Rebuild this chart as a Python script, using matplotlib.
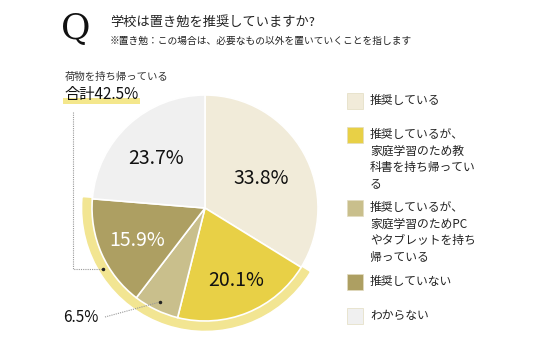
import matplotlib.pyplot as plt
from matplotlib.patches import Wedge, Rectangle

plt.rcParams['font.family'] = ['Noto Sans CJK JP', 'DejaVu Sans']

# data
labels = ["推奨している",
          "推奨しているが、\n家庭学習のため教\n科書を持ち帰ってい\nる",
          "推奨しているが、\n家庭学習のためPC\nやタブレットを持ち\n帰っている",
          "推奨していない",
          "わからない"]
values = [33.8, 20.1, 6.5, 15.9, 23.7]
colors = ["#f1ebd9", "#e8d046", "#c9bf8c", "#ad9f62", "#f0f0f0"]
carry_total = 42.5  # 20.1 + 6.5 + 15.9

W, H = 536, 357
fig = plt.figure(figsize=(W / 100, H / 100), dpi=100)
ax = fig.add_axes([0, 0, 1, 1])

def Y(y):
    return H - y

cx, cy, r = 205, Y(208), 113

# ring behind the "carry home" slices
start = 90 - values[0] * 3.6
end = start - sum(values[1:4]) * 3.6
ax.add_patch(Wedge((cx, cy), r + 9, end, start, width=14, color="#f2e592", zorder=1))

wedges, _ = ax.pie(values, colors=colors, startangle=90, counterclock=False,
                   center=(cx, cy), radius=r, frame=True,
                   wedgeprops=dict(edgecolor="white", linewidth=1.2))
for w in wedges:
    w.set_zorder(2)
ax.set_xlim(0, W)
ax.set_ylim(0, H)
ax.set_aspect('equal')
ax.axis('off')

# percentage labels
pct_pos = [(261, 178), (236, 280), None, (137, 240), (156, 158)]
pct_col = ["#111111", "#111111", None, "white", "#111111"]
for v, p, c in zip(values, pct_pos, pct_col):
    if p is None:
        continue
    ax.text(p[0], Y(p[1]), f"{v}%", fontsize=14, color=c, ha='center', va='center', zorder=5)

# 6.5% callout
ax.plot([105, 160], [Y(317), Y(302)], color="#999999", lw=0.8, ls=(0, (1, 1)), zorder=5)
ax.plot([160], [Y(302)], marker='o', ms=1.5, color="#222222", zorder=6)
ax.text(81, Y(317), f"{values[2]}%", fontsize=11, color="#111111", ha='center', va='center')

# total callout
ax.plot([73, 73, 103], [Y(112), Y(269), Y(269)], color="#999999", lw=0.8, ls=(0, (1, 1)), zorder=5)
ax.plot([103], [Y(269)], marker='o', ms=1.5, color="#222222", zorder=6)
ax.add_patch(Rectangle((63, Y(104)), 77, 6, color="#f4e78c", lw=0, zorder=3))
ax.text(65, Y(77), "荷物を持ち帰っている", fontsize=7.5, color="#333333", ha='left', va='center')
ax.text(64, Y(94), f"合計{carry_total}%", fontsize=11, color="#111111", ha='left', va='center', zorder=4)

# title
ax.text(76, Y(29), "Q", fontsize=26, family="DejaVu Serif", color="#111111", ha='center', va='center')
ax.text(110, Y(22), "学校は置き勉を推奨していますか?", fontsize=9.5, color="#222222", ha='left', va='center')
ax.text(110, Y(41), "※置き勉：この場合は、必要なもの以外を置いていくことを指します", fontsize=7,
        color="#222222", ha='left', va='center')

# legend
leg_y = [101, 135, 208, 282, 316]
for lab, c, y in zip(labels, colors, leg_y):
    ax.add_patch(Rectangle((347, Y(y) - 8), 16, 16, facecolor=c, edgecolor="#e2dcc0", lw=0.5))
    ax.text(370, Y(y) + 7, lab, fontsize=8.5, color="#222222", ha='left', va='top',
            linespacing=1.35)

fig.savefig("out.png", dpi=100)
